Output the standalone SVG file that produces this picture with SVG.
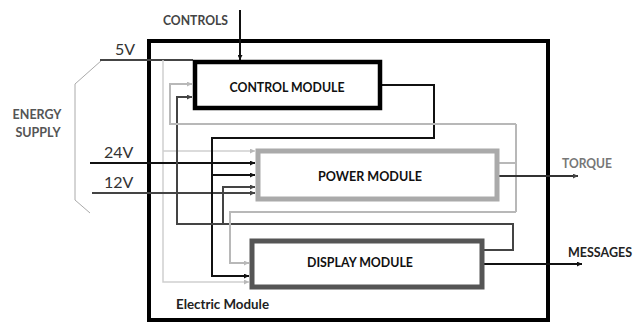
<svg xmlns="http://www.w3.org/2000/svg" width="643" height="322" viewBox="0 0 643 322">
<style>
text{font-family:Lato,"Open Sans","Liberation Sans",sans-serif;}
.b{font-weight:bold;}
.lbl{font-size:12.5px;font-weight:bold;}
.mod{font-size:14px;font-weight:bold;fill:#111;}
.v{font-size:16px;fill:#333;}
.c{fill:none;stroke-width:2;stroke-linejoin:miter;}
.k{stroke:#111;}
.d{stroke:#444;}
.g{stroke:#b8b8b8;}
.gl{stroke:#cfcfcf;stroke-width:1.5;}
</style>
<defs>
<marker id="ak" viewBox="0 0 10 10" refX="10" refY="5" markerWidth="5" markerHeight="5" orient="auto" markerUnits="userSpaceOnUse"><path d="M0,0L10,5L0,10z" fill="#111"/></marker>
<marker id="ad" viewBox="0 0 10 10" refX="10" refY="5" markerWidth="5" markerHeight="5" orient="auto" markerUnits="userSpaceOnUse"><path d="M0,0L10,5L0,10z" fill="#444"/></marker>
<marker id="ag" viewBox="0 0 10 10" refX="10" refY="5" markerWidth="5" markerHeight="5" orient="auto" markerUnits="userSpaceOnUse"><path d="M0,0L10,5L0,10z" fill="#b8b8b8"/></marker>
</defs>
<rect width="643" height="322" fill="#fff"/>

<g id="electric-module">
<rect x="149" y="41" width="399" height="279" fill="none" stroke="#000" stroke-width="4"/>
<text class="b" x="176" y="309" font-size="13" fill="#222" textLength="93" lengthAdjust="spacingAndGlyphs">Electric Module</text>
</g>

<g id="energy-supply">
<polyline points="102,60 75,84 75,200 90,213" fill="none" stroke="#aaa" stroke-width="1"/>
<text class="lbl" x="37" y="119" text-anchor="middle" fill="#555">ENERGY</text>
<text class="lbl" x="38" y="137" text-anchor="middle" fill="#555">SUPPLY</text>
<text class="v" x="115" y="55">5V</text>
<text class="v" x="104" y="158">24V</text>
<text class="v" x="104" y="188">12V</text>
</g>

<g id="controls-label">
<text class="lbl" x="163" y="25" fill="#444" textLength="65" lengthAdjust="spacingAndGlyphs">CONTROLS</text>
</g>
<g id="torque-label">
<text class="lbl" x="562" y="168" fill="#777" textLength="50" lengthAdjust="spacingAndGlyphs">TORQUE</text>
</g>
<g id="messages-label">
<text class="lbl" x="568" y="257" fill="#222" textLength="64" lengthAdjust="spacingAndGlyphs">MESSAGES</text>
</g>

<g id="connectors">
<!-- 5V and light-gray supply -->
<polyline class="c d" points="100,60 193,60" stroke-width="1.5"/>
<polyline class="c gl" points="163,60 163,282 249,282" marker-end="url(#ag)"/>
<polyline class="c gl" points="163,151 255,151" marker-end="url(#ag)"/>
<!-- 24V / 12V -->
<polyline class="c k" points="90,163 255,163" marker-end="url(#ak)"/>
<polyline class="c d" points="92,193 255,193" marker-end="url(#ad)"/>
<!-- controls -->
<polyline class="c k" points="240,10 240,60" marker-end="url(#ak)"/>
<!-- control module output -->
<polyline class="c k" points="380,85 434,85 434,138 212,138 212,276 249,276" marker-end="url(#ak)"/>
<polyline class="c k" points="212,175 255,175" marker-end="url(#ak)"/>
<!-- display feedback (dark) -->
<polyline class="c d" points="482,250 513,250 513,224 177,224 177,97 192,97" marker-end="url(#ad)"/>
<polyline class="c d" points="223,224 223,187 255,187" marker-end="url(#ad)"/>
<!-- power feedback loop (light) -->
<polyline class="c g" points="498,163 516,163"/>
<polyline class="c g" points="516,124 516,212"/>
<polyline class="c g" points="516,124 170,124 170,84 192,84" marker-end="url(#ag)"/>
<polyline class="c g" points="516,212 230,212 230,263 249,263" marker-end="url(#ag)"/>
<!-- outputs -->
<polyline class="c" stroke="#333" points="498,176 578,176" marker-end="url(#ad)"/>
<polyline class="c k" points="482,264 582,264" marker-end="url(#ak)"/>
</g>

<g id="control-module">
<rect x="195" y="62" width="185" height="46" fill="#fff" stroke="#000" stroke-width="4.5"/>
<text class="mod" x="287" y="92" text-anchor="middle" textLength="115" lengthAdjust="spacingAndGlyphs">CONTROL MODULE</text>
</g>
<g id="power-module">
<rect x="258" y="151" width="239" height="48" fill="#fff" stroke="#aaa" stroke-width="5"/>
<text class="mod" x="370" y="181" text-anchor="middle" textLength="104" lengthAdjust="spacingAndGlyphs">POWER MODULE</text>
</g>
<g id="display-module">
<rect x="252" y="241" width="230" height="46" fill="#fff" stroke="#555" stroke-width="5"/>
<text class="mod" x="360" y="267" text-anchor="middle" textLength="106" lengthAdjust="spacingAndGlyphs">DISPLAY MODULE</text>
</g>
</svg>
